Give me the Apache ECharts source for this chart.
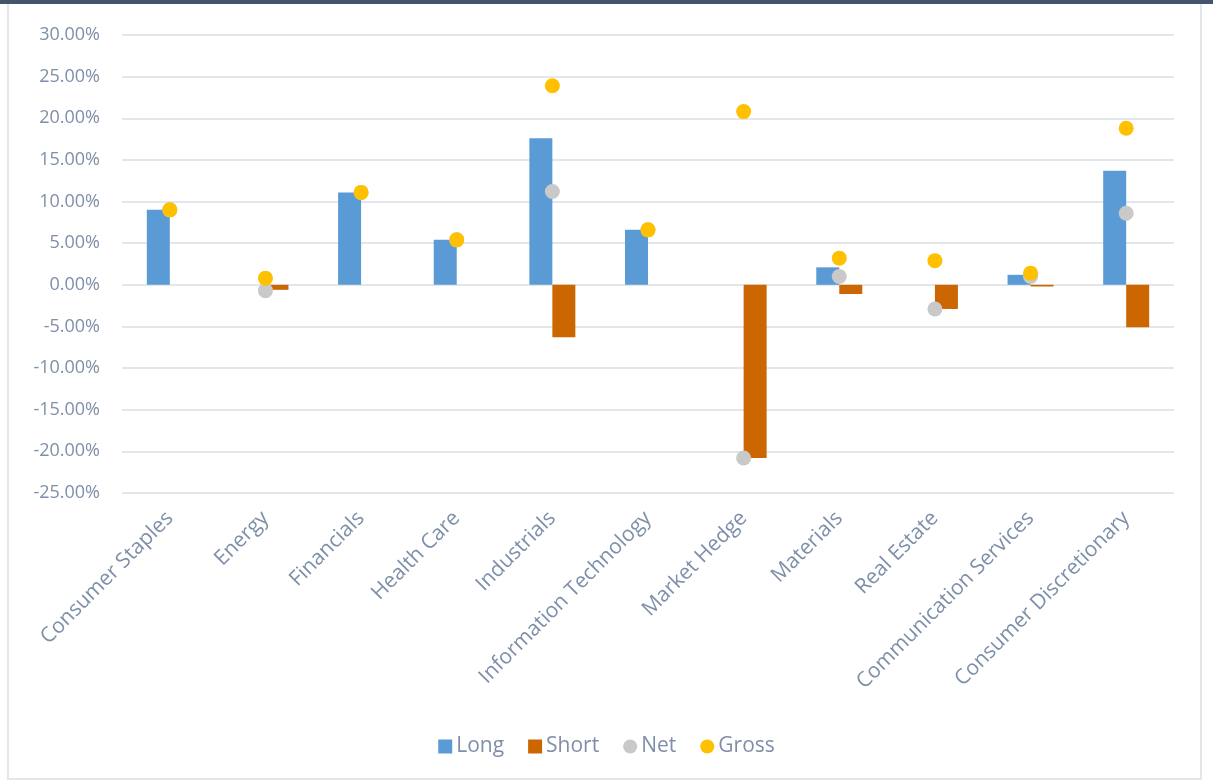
<!DOCTYPE html>
<html>
<head>
<meta charset="utf-8">
<script src="https://cdn.jsdelivr.net/npm/echarts@6/dist/echarts.min.js"></script>
<style>
html,body{margin:0;padding:0;background:#fff;}
#frame{position:absolute;left:0;top:0;width:1213px;height:784px;}
#topbar{position:absolute;left:0;top:0;width:1213px;height:4px;background:#44546A;}
#border{position:absolute;left:7px;top:4px;width:1195px;height:776px;border-left:2px solid #E3E6EA;border-right:2px solid #E3E6EA;border-bottom:2px solid #E3E6EA;box-sizing:border-box;}
#chart{position:absolute;left:0;top:0;width:1213px;height:784px;}
</style>
</head>
<body>
<div id="frame"><div id="topbar"></div><div id="border"></div><div id="chart"></div></div>
<script>
const categories = ["Consumer Staples","Energy","Financials","Health Care","Industrials","Information Technology","Market Hedge","Materials","Real Estate","Communication Services","Consumer Discretionary"];
const longVals  = [9.0, 0, 11.1, 5.4, 17.6, 6.6, 0, 2.1, 0, 1.2, 13.7];
const shortVals = [0, -0.6, 0, 0, -6.3, 0, -20.8, -1.1, -2.9, -0.2, -5.1];
const netVals   = [9.0, -0.7, 11.1, 5.4, 11.2, 6.6, -20.8, 1.0, -2.9, 1.0, 8.6];
const grossVals = [9.0, 0.8, 11.1, 5.4, 23.9, 6.6, 20.8, 3.2, 2.9, 1.4, 18.8];
const yMin = -25, yMax = 30, yStep = 5;

const textColor = '#7F8FA9';
const font = 'Open Sans';
const chart = echarts.init(document.getElementById('chart'));
chart.setOption({
  animation: false,
  grid: {left: 122, right: 39, top: 35, bottom: 291, containLabel: false},
  legend: {
    bottom: 22, left: 'center', itemGap: 24, itemWidth: 14, itemHeight: 14,
    textStyle: {color: textColor, fontFamily: font, fontSize: 21, padding: [0,0,0,-1]},
    data: [{name:'Long', icon:'rect'},{name:'Short', icon:'rect'},{name:'Net', icon:'circle'},{name:'Gross', icon:'circle'}]
  },
  xAxis: {
    type: 'category', data: categories,
    axisLine: {show: false, onZero: false}, axisTick: {show: false},
    axisLabel: {rotate: 45, interval: 0, margin: 22, color: textColor, fontFamily: font, fontSize: 21}
  },
  yAxis: {
    type: 'value', min: yMin, max: yMax, interval: yStep,
    axisLine: {show: false}, axisTick: {show: false},
    axisLabel: {margin: 22, color: textColor, fontFamily: font, fontSize: 18, formatter: v => v.toFixed(2) + '%'},
    splitLine: {lineStyle: {color: '#E3E6EB', width: 2}}
  },
  series: [
    {name: 'Long', type: 'bar', data: longVals, barWidth: 23, barGap: '0%', itemStyle: {color: '#5B9BD5'}},
    {name: 'Short', type: 'bar', data: shortVals, barWidth: 23, barGap: '0%', itemStyle: {color: '#CC6600'}},
    {name: 'Net', type: 'line', data: netVals, symbol: 'circle', symbolSize: 15, lineStyle: {opacity: 0, width: 0}, itemStyle: {color: '#C9C9C9'}, z: 3},
    {name: 'Gross', type: 'line', data: grossVals, symbol: 'circle', symbolSize: 15, lineStyle: {opacity: 0, width: 0}, itemStyle: {color: '#FFC000'}, z: 4}
  ]
});
</script>
</body>
</html>
